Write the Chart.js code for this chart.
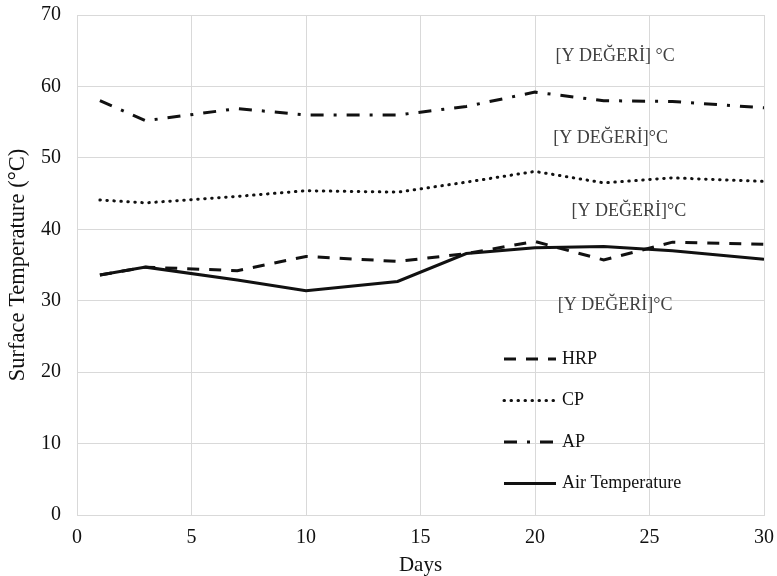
<!DOCTYPE html>
<html>
<head>
<meta charset="utf-8">
<title>Surface Temperature</title>
<script src="https://cdn.jsdelivr.net/npm/chart.js@4.4.1/dist/chart.umd.min.js"></script>
<style>
  html, body { margin: 0; padding: 0; background: #fff; }
  #wrap { width: 777px; height: 576px; }
</style>
</head>
<body>
<div id="wrap"><canvas id="chart" width="777" height="576"></canvas></div>
<script>
"use strict";

// ── Data ─────────────────────────────────────────────────────────────────────
const days   = [1, 3, 7, 10, 14, 17, 20, 23, 26, 30];
const hrp    = [33.6, 34.7, 34.2, 36.2, 35.5, 36.6, 38.3, 35.7, 38.2, 37.9];
const cp     = [44.1, 43.7, 44.6, 45.4, 45.2, 46.6, 48.1, 46.5, 47.2, 46.7];
const ap     = [58.0, 55.2, 56.9, 56.0, 56.0, 57.2, 59.2, 58.0, 57.9, 57.0];
const airT   = [33.6, 34.7, 32.9, 31.4, 32.7, 36.6, 37.4, 37.6, 37.0, 35.8];

const seriesNames = ["HRP", "CP", "AP", "Air Temperature"];
const xTicks = { min: 0, max: 30, step: 5 };
const yTicks = { min: 0, max: 70, step: 10 };

// Placeholder data-label text left over from the spreadsheet template
const valueLabels  = ["[Y DEĞERİ] °C", "[Y DEĞERİ]°C", "[Y DEĞERİ]°C", "[Y DEĞERİ]°C"];
const valueLabelAt = [[23.5, 64.2], [23.3, 52.8], [24.1, 42.5], [23.5, 29.3]];

// ── Style ────────────────────────────────────────────────────────────────────
const SERIF = "'Liberation Serif', 'Times New Roman', serif";
const INK   = "#111111";
const GRID  = "#d9d9d9";

const pts = vals => days.map((d, i) => ({ x: d, y: vals[i] }));

const lineBase = {
  borderColor: INK,
  borderWidth: 3,
  pointRadius: 0,
  tension: 0,
  fill: false,
};

// fixed box sizes; drop the automatic edge padding for tick labels
function fixBox(size) {
  return s => {
    if (s.isHorizontal()) s.height = size; else s.width = size;
    s.paddingTop = s.paddingBottom = s.paddingLeft = s.paddingRight = 0;
  };
}

// ── Plugins ──────────────────────────────────────────────────────────────────
const valueLabelPlugin = {
  id: "valueLabels",
  afterDatasetsDraw(chart) {
    const { ctx, scales: { x, y } } = chart;
    ctx.save();
    ctx.font = `18px ${SERIF}`;
    ctx.fillStyle = "#404040";
    ctx.textAlign = "center";
    ctx.textBaseline = "middle";
    valueLabels.forEach((txt, i) => {
      const [dx, dy] = valueLabelAt[i];
      ctx.fillText(txt, x.getPixelForValue(dx), y.getPixelForValue(dy));
    });
    ctx.restore();
  },
};

// legend sits inside the plot, lower middle
const insideLegend = {
  id: "insideLegend",
  afterDatasetsDraw(chart) {
    const { ctx, chartArea } = chart;
    const x0 = chartArea.left + 427;
    const lineLen = 52;
    let yRow = chartArea.top + 344;
    ctx.save();
    ctx.font = `18px ${SERIF}`;
    ctx.textBaseline = "middle";
    ctx.textAlign = "left";
    chart.data.datasets.forEach(ds => {
      ctx.beginPath();
      ctx.strokeStyle = ds.borderColor;
      ctx.lineWidth = ds.borderWidth;
      ctx.lineCap = ds.borderCapStyle || "butt";
      ctx.setLineDash(ds.borderDash || []);
      ctx.moveTo(x0, yRow);
      ctx.lineTo(x0 + lineLen, yRow);
      ctx.stroke();
      ctx.setLineDash([]);
      ctx.fillStyle = INK;
      ctx.fillText(ds.label, x0 + lineLen + 6, yRow);
      yRow += 41.5;
    });
    ctx.restore();
  },
};

// ── Chart ────────────────────────────────────────────────────────────────────
new Chart(document.getElementById("chart"), {
  type: "line",
  data: {
    datasets: [
      { ...lineBase, label: seriesNames[0], data: pts(hrp),  borderDash: [12, 10] },
      { ...lineBase, label: seriesNames[1], data: pts(cp),   borderDash: [0.5, 6.5], borderCapStyle: "round", borderWidth: 3 },
      { ...lineBase, label: seriesNames[2], data: pts(ap),   borderDash: [13, 10, 3, 10] },
      { ...lineBase, label: seriesNames[3], data: pts(airT) },
    ],
  },
  options: {
    responsive: false,
    animation: false,
    devicePixelRatio: 1,
    layout: { padding: { top: 15, right: 13, left: 0, bottom: 0 } },
    plugins: {
      legend:  { display: false },
      tooltip: { enabled: false },
    },
    scales: {
      x: {
        type: "linear",
        min: xTicks.min,
        max: xTicks.max,
        afterFit: fixBox(61),
        grid:   { color: GRID, lineWidth: 1, drawTicks: false },
        border: { color: GRID },
        ticks:  { stepSize: xTicks.step, padding: 11, color: INK, font: { family: SERIF, size: 20 } },
        title:  {
          display: true, text: "Days", color: INK,
          font: { family: SERIF, size: 21, lineHeight: 1 },
          padding: { top: 0, bottom: 0 },
        },
      },
      y: {
        min: yTicks.min,
        max: yTicks.max,
        afterFit: fixBox(77),
        grid:   { color: GRID, lineWidth: 1, drawTicks: false },
        border: { color: GRID },
        ticks:  { stepSize: yTicks.step, padding: 16, color: INK, font: { family: SERIF, size: 20 } },
        title:  {
          display: true, text: "Surface Temperature (°C)", color: INK,
          font: { family: SERIF, size: 22.5, lineHeight: 1 },
          padding: { top: 7, bottom: 0 },
        },
      },
    },
  },
  plugins: [valueLabelPlugin, insideLegend],
});
</script>
</body>
</html>
